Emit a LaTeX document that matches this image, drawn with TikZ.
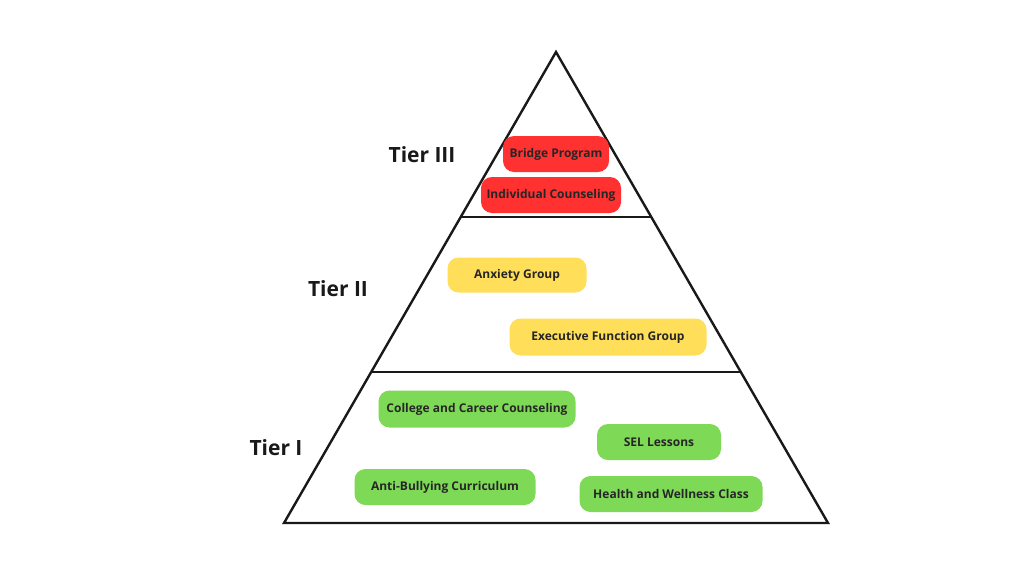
\documentclass[tikz,border=0pt]{standalone}
\usepackage{fontspec}
\setmainfont{Open Sans}
\newfontfamily\tierfont{Open Sans}
\definecolor{tred}{HTML}{FF3131}
\definecolor{tyellow}{HTML}{FFDE59}
\definecolor{tgreen}{HTML}{7ED957}
\begin{document}
\begin{tikzpicture}[x=1pt,y=-1pt,
  item/.style={rounded corners=11pt, inner sep=0pt, font=\fontsize{12}{14}\selectfont\bfseries, text=black!85},
  tier/.style={font=\tierfont\fontsize{21}{24}\selectfont\bfseries, text=black!90},
  edge/.style={line width=2.4pt, line join=miter, black!90}]
\useasboundingbox (0,0) rectangle (1024,576);
\fill[white] (0,0) rectangle (1024,576);
\coordinate (apex) at (556,52);
\coordinate (bl) at (284,523);
\coordinate (br) at (828,523);
\draw[edge] (apex) -- (br) -- (bl) -- cycle;
\coordinate (l1) at (461,217); \coordinate (r1) at (651,217);
\coordinate (l2) at (371,372); \coordinate (r2) at (741,372);
\draw[line width=2pt, black!90] (l1) -- (r1);
\draw[line width=2pt, black!90] (l2) -- (r2);
% Tier III
\node[item, fill=tred, minimum width=106pt, minimum height=36pt] (bridge) at (556,154) {Bridge Program};
\node[item, fill=tred, minimum width=140pt, minimum height=36pt] (indiv) at (551,195) {Individual Counseling};
% Tier II
\node[item, fill=tyellow, minimum width=139pt, minimum height=35pt] (anx) at (517,275) {Anxiety Group};
\node[item, fill=tyellow, minimum width=197pt, minimum height=37pt] (exec) at (608,337) {Executive Function Group};
% Tier I
\node[item, fill=tgreen, minimum width=197pt, minimum height=37pt] (college) at (477,409) {College and Career Counseling};
\node[item, fill=tgreen, minimum width=124pt, minimum height=36pt] (sel) at (659,442) {SEL Lessons};
\node[item, fill=tgreen, minimum width=181pt, minimum height=36pt] (anti) at (445,487) {Anti-Bullying Curriculum};
\node[item, fill=tgreen, minimum width=183pt, minimum height=36pt] (health) at (671,494) {Health and Wellness Class};
% tier labels
\node[tier] (t3) at (422,155) {Tier III};
\node[tier] (t2) at (338,289) {Tier II};
\node[tier] (t1) at (276,448) {Tier I};
\end{tikzpicture}
\end{document}
